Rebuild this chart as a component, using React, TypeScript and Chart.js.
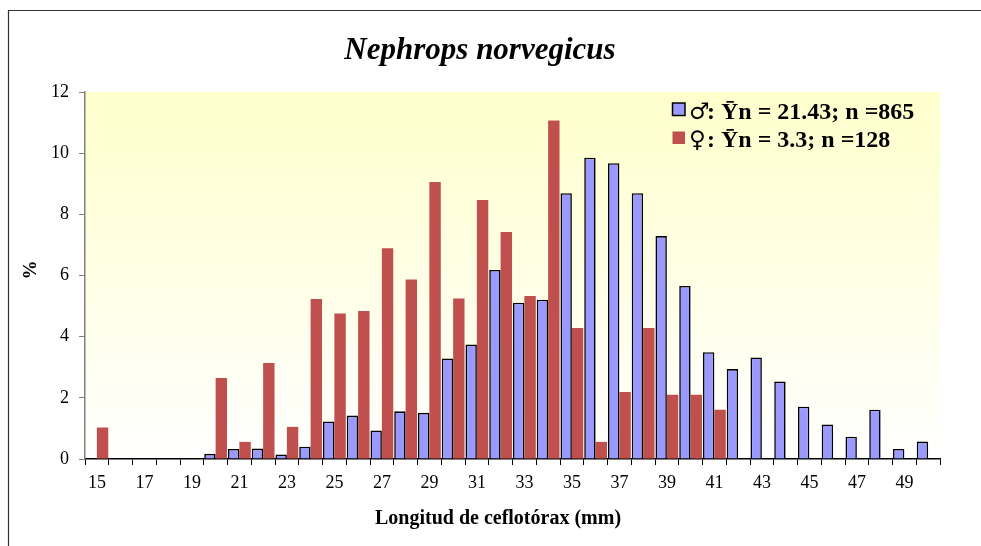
import { useEffect, useRef } from 'react';
import { Chart, registerables } from 'chart.js';

Chart.register(...registerables);

const FONT = "'Liberation Serif', 'Times New Roman', Times, serif";

const categories = [
  '15', '16', '17', '18', '19', '20', '21', '22', '23', '24', '25', '26',
  '27', '28', '29', '30', '31', '32', '33', '34', '35', '36', '37', '38',
  '39', '40', '41', '42', '43', '44', '45', '46', '47', '48', '49', '50',
];

const xTickLabels = ['15', '17', '19', '21', '23', '25', '27', '29', '31', '33', '35', '37', '39', '41', '43', '45', '47', '49'];

const maleValues = [
  0, 0, 0, 0, 0, 0.17, 0.33, 0.34, 0.15, 0.4, 1.23, 1.42,
  0.93, 1.56, 1.51, 3.29, 3.74, 6.18, 5.11, 5.21, 8.69, 9.85, 9.67, 8.69,
  7.29, 5.66, 3.49, 2.94, 3.32, 2.53, 1.71, 1.13, 0.73, 1.61, 0.33, 0.57,
];

const femaleValues = [
  1.03, 0, 0, 0, 0, 2.65, 0.56, 3.14, 1.05, 5.23, 4.76, 4.84,
  6.89, 5.87, 9.06, 5.25, 8.47, 7.42, 5.33, 11.07, 4.28, 0.56, 2.19, 4.28,
  2.1, 2.1, 1.61, 0, 0, 0, 0, 0, 0, 0, 0, 0,
];

const maleSymbol = '♂';
const femaleSymbol = '♀';
const maleLabel = ': Ȳn = 21.43; n =865';
const femaleLabel = ': Ȳn = 3.3; n =128';
const titleText = 'Nephrops norvegicus';
const xTitleText = 'Longitud de ceflotórax (mm)';
const yTitleText = '%';

const MALE_COLOR = '#9999FF';
const FEMALE_COLOR = '#C0504D';

const decorPlugin = {
  id: 'decor',
  beforeDraw(chart: any) {
    const { ctx, chartArea, width, height } = chart;
    ctx.save();
    ctx.fillStyle = '#FFFFFF';
    ctx.fillRect(0, 0, width, height);
    ctx.strokeStyle = '#333333';
    ctx.lineWidth = 1.2;
    ctx.beginPath();
    ctx.moveTo(8.5, height);
    ctx.lineTo(8.5, 10.5);
    ctx.lineTo(width, 10.5);
    ctx.stroke();
    const g = ctx.createLinearGradient(0, chartArea.top, 0, chartArea.bottom);
    g.addColorStop(0, '#FFFFCC');
    g.addColorStop(1, '#FFFFFF');
    ctx.fillStyle = g;
    ctx.fillRect(chartArea.left, chartArea.top, chartArea.right - chartArea.left, chartArea.bottom - chartArea.top);
    ctx.restore();
  },
  afterDraw(chart: any) {
    const { ctx } = chart;
    ctx.save();
    ctx.fillStyle = '#000000';
    ctx.font = `italic bold 31px ${FONT}`;
    ctx.textAlign = 'center';
    ctx.textBaseline = 'alphabetic';
    ctx.fillText(titleText, 480, 59);
    ctx.font = `bold 20px ${FONT}`;
    ctx.fillText(xTitleText, 498, 524);
    ctx.save();
    ctx.translate(31, 270);
    ctx.rotate(-Math.PI / 2);
    ctx.textBaseline = 'middle';
    ctx.font = `bold 19px ${FONT}`;
    ctx.fillText(yTitleText, 0, 0);
    ctx.restore();
    const rows = chart.data.datasets.map((ds: any, i: number) => ({
      symbol: i === 0 ? maleSymbol : femaleSymbol,
      label: ds.label,
      fill: ds.backgroundColor,
      stroke: i === 0,
      baseline: i === 0 ? 118.5 : 147,
    }));
    ctx.textAlign = 'left';
    ctx.textBaseline = 'alphabetic';
    for (const r of rows) {
      const cy = r.baseline - 9.5;
      ctx.fillStyle = r.fill;
      ctx.fillRect(672.5, cy - 6, 12.5, 12.5);
      if (r.stroke) {
        ctx.strokeStyle = '#000000';
        ctx.lineWidth = 1.5;
        ctx.strokeRect(672.5, cy - 6, 12.5, 12.5);
      }
      ctx.fillStyle = '#000000';
      ctx.font = `normal 23px 'DejaVu Sans', sans-serif`;
      ctx.fillText(r.symbol, 689, r.baseline);
      ctx.font = `bold 24px ${FONT}`;
      ctx.fillText(r.label, 707, r.baseline);
    }
    ctx.restore();
  },
};

export default function App() {
  const canvasRef = useRef<HTMLCanvasElement | null>(null);

  useEffect(() => {
    const canvas = canvasRef.current;
    if (!canvas) return;
    const chart = new Chart(canvas, {
      type: 'bar',
      data: {
        labels: categories,
        datasets: [
          {
            label: maleLabel,
            data: maleValues.map((v) => (v === 0 ? null : v)),
            backgroundColor: MALE_COLOR,
            borderColor: '#000000',
            borderWidth: 1.6,
            categoryPercentage: 0.96,
            barPercentage: 1,
          },
          {
            label: femaleLabel,
            data: femaleValues.map((v) => (v === 0 ? null : v)),
            backgroundColor: FEMALE_COLOR,
            borderWidth: 0,
            categoryPercentage: 0.96,
            barPercentage: 1,
          },
        ],
      },
      options: {
        animation: false,
        responsive: false,
        devicePixelRatio: 1,
        layout: { padding: { top: 92, right: 41, left: 0, bottom: 0 } },
        plugins: {
          legend: { display: false },
          title: { display: false },
          tooltip: { enabled: false },
        },
        scales: {
          x: {
            offset: true,
            grid: {
              offset: true,
              drawOnChartArea: false,
              drawTicks: true,
              tickLength: 6,
              color: '#000000',
              lineWidth: 1,
            },
            border: { display: true, color: '#000000', width: 1.5 },
            ticks: {
              autoSkip: false,
              maxRotation: 0,
              minRotation: 0,
              padding: 7,
              color: '#000000',
              font: { family: FONT, size: 18 },
              callback: (_v: any, i: number) => (xTickLabels.includes(categories[i]) ? categories[i] : ''),
            },
            afterFit: (scale: any) => {
              scale.height = 87;
            },
          },
          y: {
            min: 0,
            max: 12,
            grid: {
              drawOnChartArea: false,
              drawTicks: true,
              tickLength: 6,
              color: '#808080',
              lineWidth: 1,
            },
            border: { display: true, color: '#808080', width: 1.5 },
            ticks: {
              stepSize: 2,
              padding: 10,
              color: '#000000',
              font: { family: FONT, size: 18 },
            },
            afterFit: (scale: any) => {
              scale.width = 85;
            },
          },
        },
      },
      plugins: [decorPlugin],
    });
    return () => chart.destroy();
  }, []);

  return (
    <div style={{ position: 'absolute', left: 0, top: 0, width: 981, height: 546, background: '#fff' }}>
      <canvas ref={canvasRef} width={981} height={546} style={{ width: 981, height: 546, display: 'block' }} />
    </div>
  );
}
